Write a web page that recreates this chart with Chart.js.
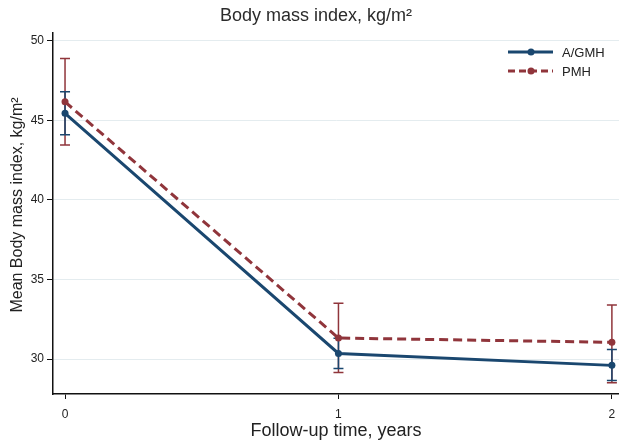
<!DOCTYPE html>
<html>
<head>
<meta charset="utf-8">
<script src="https://cdn.jsdelivr.net/npm/chart.js@4/dist/chart.umd.min.js"></script>
<style>
  html, body { margin: 0; padding: 0; background: #fff; }
  #wrap { width: 619px; height: 443px; position: relative; }
</style>
</head>
<body>
<div id="wrap"><canvas id="chart"></canvas></div>
<script>
const years = [0, 1, 2];
const agmhMean = [45.45, 30.35, 29.6];
const agmhLow = [44.1, 29.4, 28.65];
const agmhHigh = [46.8, 31.3, 30.6];
const pmhMean = [46.17, 31.32, 31.05];
const pmhLow = [43.45, 29.15, 28.5];
const pmhHigh = [48.9, 33.5, 33.4];
const yTicks = [30, 35, 40, 45, 50];
const xTicks = [0, 1, 2];

const NAVY = "#1a476f";
const MAROON = "#90353b";
const FONT = "'Liberation Sans', Arial, sans-serif";

// error bars (drawn behind lines)
const errorBars = {
  id: "errorBars",
  beforeDatasetsDraw(chart) {
    const ctx = chart.ctx;
    const xs = chart.scales.x, ys = chart.scales.y;
    const sets = [
      { low: pmhLow, high: pmhHigh, color: MAROON },
      { low: agmhLow, high: agmhHigh, color: NAVY },
    ];
    ctx.save();
    ctx.lineWidth = 1.5;
    sets.forEach(s => {
      ctx.strokeStyle = s.color;
      years.forEach((yr, i) => {
        const x = xs.getPixelForValue(yr);
        const y1 = ys.getPixelForValue(s.low[i]);
        const y2 = ys.getPixelForValue(s.high[i]);
        ctx.beginPath();
        ctx.moveTo(x, y1); ctx.lineTo(x, y2);
        ctx.moveTo(x - 5, y1); ctx.lineTo(x + 5, y1);
        ctx.moveTo(x - 5, y2); ctx.lineTo(x + 5, y2);
        ctx.stroke();
      });
    });
    ctx.restore();
  }
};

// title, y-axis title and legend
const extras = {
  id: "extras",
  afterDraw(chart) {
    const ctx = chart.ctx;
    ctx.save();
    ctx.fillStyle = "#2b2b2b";
    ctx.font = "18px " + FONT;
    ctx.textAlign = "center";
    ctx.textBaseline = "middle";
    ctx.fillText("Body mass index, kg/m²", 316, 16);

    ctx.save();
    ctx.translate(18, 205);
    ctx.rotate(-Math.PI / 2);
    ctx.fillStyle = "#222";
    ctx.font = "16px " + FONT;
    ctx.fillText("Mean Body mass index, kg/m²", 0, 0);
    ctx.restore();

    const items = [
      { label: "A/GMH", color: NAVY, dash: [], y: 52 },
      { label: "PMH", color: MAROON, dash: [7, 4], y: 71 },
    ];
    items.forEach(it => {
      ctx.strokeStyle = it.color;
      ctx.lineWidth = 3;
      ctx.setLineDash(it.dash);
      ctx.beginPath();
      ctx.moveTo(508, it.y); ctx.lineTo(553, it.y);
      ctx.stroke();
      ctx.setLineDash([]);
      ctx.fillStyle = it.color;
      ctx.beginPath();
      ctx.arc(531, it.y, 3.5, 0, Math.PI * 2);
      ctx.fill();
      ctx.fillStyle = "#222";
      ctx.font = "13px " + FONT;
      ctx.textAlign = "left";
      ctx.fillText(it.label, 562, it.y + 1);
    });
    ctx.restore();
  }
};

new Chart(document.getElementById("chart"), {
  type: "line",
  data: {
    datasets: [
      {
        label: "A/GMH",
        data: years.map((x, i) => ({ x, y: agmhMean[i] })),
        borderColor: NAVY,
        backgroundColor: NAVY,
        borderWidth: 3,
        pointRadius: 3.5,
        pointBorderWidth: 0,
        pointHoverRadius: 3.5,
        tension: 0,
      },
      {
        label: "PMH",
        data: years.map((x, i) => ({ x, y: pmhMean[i] })),
        borderColor: MAROON,
        backgroundColor: MAROON,
        borderWidth: 3,
        borderDash: [9, 5],
        pointRadius: 3.5,
        pointBorderWidth: 0,
        pointHoverRadius: 3.5,
        tension: 0,
      },
    ],
  },
  options: {
    responsive: true,
    maintainAspectRatio: false,
    animation: false,
    layout: { autoPadding: false, padding: { top: 33, right: 0, left: 0, bottom: 0 } },
    plugins: {
      legend: { display: false },
      title: { display: false },
      tooltip: { enabled: false },
    },
    scales: {
      x: {
        type: "linear",
        min: -0.044,
        max: 2.026,
        afterBuildTicks(scale) { scale.ticks = xTicks.map(v => ({ value: v })); },
        afterFit(scale) { scale.height = 49; scale.paddingRight = 0; scale.paddingLeft = 0; },
        border: { display: true, color: "#111", width: 1.5 },
        grid: { drawOnChartArea: false, color: "#111", tickColor: "#111", tickLength: 5 },
        ticks: { color: "#222", font: { family: FONT, size: 12 }, padding: 8 },
        title: {
          display: true,
          text: "Follow-up time, years",
          color: "#222",
          font: { family: FONT, size: 18 },
          padding: { top: 0, bottom: 1 },
        },
      },
      y: {
        min: 27.8,
        max: 50.5,
        afterBuildTicks(scale) { scale.ticks = yTicks.map(v => ({ value: v })); },
        afterFit(scale) { scale.width = 53; scale.paddingTop = 0; scale.paddingBottom = 0; },
        border: { display: true, color: "#111", width: 1.5 },
        grid: { color: "#e4ecef", lineWidth: 1, tickColor: "#111", tickLength: 6 },
        ticks: { color: "#222", font: { family: FONT, size: 12 }, padding: 3 },
        title: { display: false },
      },
    },
  },
  plugins: [errorBars, extras],
});
</script>
</body>
</html>
